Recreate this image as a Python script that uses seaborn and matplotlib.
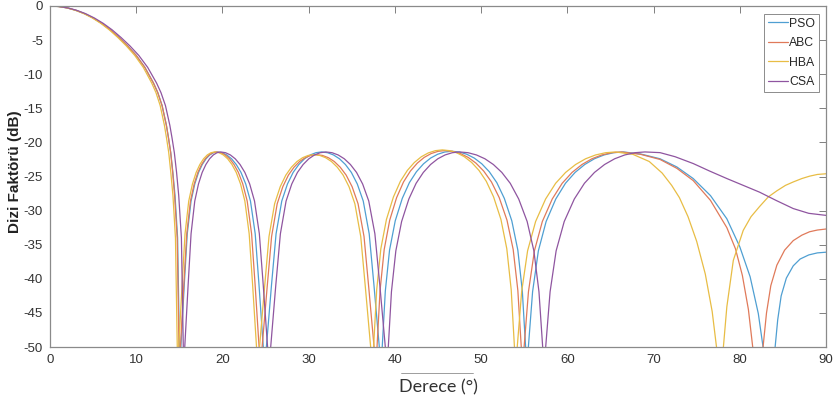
import matplotlib
matplotlib.use("Agg")
import matplotlib.pyplot as plt
import seaborn as sns
import pandas as pd
from matplotlib.lines import Line2D

# ---------------- data ----------------
algorithms = ["PSO", "ABC", "HBA", "CSA"]
colors = ["#4f9fd2", "#e07a5a", "#e8bd45", "#8f55a0"]

pso_deg = [0, 1, 2, 3, 4, 5, 6, 7, 8, 9, 10, 11, 12, 12.5, 13, 13.5, 13.75, 14, 14.25, 14.5, 14.8, 15.05,
           15.57, 15.92, 16.36, 16.79, 17.23, 17.66, 18.10, 18.53, 18.97, 19.4,
           19.95, 20.5, 21.05, 21.6, 22.15, 22.7, 23.25, 23.8, 24.24, 24.9,
           25.69, 26.22, 26.88, 27.54, 28.2, 28.86, 29.52, 30.18, 30.84, 31.5,
           32.19, 32.88, 33.57, 34.26, 34.95, 35.64, 36.33, 37.02, 37.57, 38.4,
           38.89, 39.38, 40.04, 40.86, 41.68, 42.5, 43.32, 44.14, 44.96, 45.78, 46.6,
           47.47, 48.34, 49.21, 50.08, 50.95, 51.82, 52.69, 53.56, 54.26, 54.78, 55.3,
           55.97, 56.64, 57.54, 58.66, 59.78, 60.9, 62.02, 63.14, 64.26, 65.38, 66.5,
           68.5, 70.75, 72.7, 74.6, 76.6, 78.5, 80.0, 81.2, 82.15, 82.7, 83.4,
           84.1, 84.4, 84.8, 85.4, 86.2, 87.0, 88.0, 89.0, 90.0]
pso_db = [0, -0.07, -0.28, -0.63, -1.12, -1.76, -2.55, -3.5, -4.62, -5.85, -7.25, -9.0, -11.3, -12.7, -14.6, -17.5, -19.4, -21.5, -24.4, -27.8, -34.0, -53,
          -40.9, -33.4, -28.6, -26.1, -24.4, -23.24, -22.4, -21.84, -21.51, -21.4,
          -21.51, -21.84, -22.4, -23.24, -24.4, -26.1, -28.6, -33.4, -40.9, -53,
          -40.9, -33.4, -28.6, -26.1, -24.4, -23.24, -22.4, -21.84, -21.51, -21.4,
          -21.51, -21.84, -22.4, -23.24, -24.4, -26.1, -28.6, -33.4, -40.9, -53,
          -41.8, -35.8, -31.5, -28.2, -25.9, -24.3, -23.14, -22.3, -21.74, -21.41, -21.3,
          -21.41, -21.74, -22.3, -23.14, -24.3, -25.9, -28.2, -31.5, -35.8, -41.8, -53,
          -41.9, -35.9, -31.6, -28.3, -26.0, -24.4, -23.24, -22.4, -21.84, -21.51, -21.4,
          -21.7, -22.4, -23.6, -25.3, -27.8, -31.2, -35.3, -39.7, -45.1, -50, -56,
          -50, -46, -42.5, -39.9, -38.1, -37.1, -36.5, -36.2, -36.1]

abc_deg = [0, 1, 2, 3, 4, 5, 6, 7, 8, 9, 10, 11, 12, 12.5, 13, 13.5, 13.75, 14, 14.23, 14.45, 14.75, 15.0,
           15.52, 15.86, 16.29, 16.72, 17.15, 17.58, 18.01, 18.44, 18.87, 19.3,
           19.81, 20.32, 20.83, 21.34, 21.85, 22.36, 22.87, 23.38, 23.79, 24.4,
           25.18, 25.7, 26.35, 27.0, 27.65, 28.3, 28.95, 29.6, 30.25, 30.9,
           31.59, 32.28, 32.97, 33.66, 34.35, 35.04, 35.73, 36.42, 36.97, 37.8,
           38.28, 38.76, 39.4, 40.2, 41.0, 41.8, 42.6, 43.4, 44.2, 45.0, 45.8,
           46.7, 47.6, 48.5, 49.4, 50.3, 51.2, 52.1, 53.0, 53.72, 54.26, 54.8,
           55.49, 56.18, 57.1, 58.25, 59.4, 60.55, 61.7, 62.85, 64.0, 65.15, 66.3,
           68.5, 70.75, 72.7, 74.6, 76.6, 78.5, 79.5, 80.3, 81.0, 81.5, 82.1,
           82.7, 83.1, 83.6, 84.3, 85.2, 86.2, 87.2, 88.1, 89.0, 90.0]
abc_db = [0, -0.07, -0.28, -0.63, -1.12, -1.76, -2.55, -3.5, -4.62, -5.85, -7.25, -9.0, -11.3, -12.7, -14.6, -17.5, -19.4, -21.5, -24.4, -27.8, -34.0, -53,
          -40.9, -33.4, -28.6, -26.1, -24.4, -23.24, -22.4, -21.84, -21.51, -21.4,
          -21.51, -21.84, -22.4, -23.24, -24.4, -26.1, -28.6, -33.4, -40.9, -53,
          -41.3, -33.8, -29.0, -26.5, -24.8, -23.64, -22.8, -22.24, -21.91, -21.8,
          -21.91, -22.24, -22.8, -23.64, -24.8, -26.5, -29.0, -33.8, -41.3, -53,
          -41.7, -35.7, -31.4, -28.1, -25.8, -24.2, -23.04, -22.2, -21.64, -21.31, -21.2,
          -21.31, -21.64, -22.2, -23.04, -24.2, -25.8, -28.1, -31.4, -35.7, -41.7, -53,
          -41.9, -35.9, -31.6, -28.3, -26.0, -24.4, -23.24, -22.4, -21.84, -21.51, -21.4,
          -21.75, -22.5, -23.8, -25.6, -28.5, -32.5, -35.6, -39.5, -44.5, -50, -56,
          -50, -45, -41, -38, -35.8, -34.4, -33.6, -33.1, -32.85, -32.7]

hba_deg = [0, 0.98, 1.97, 2.95, 3.93, 4.92, 5.9, 6.88, 7.87, 8.85, 9.83, 10.82, 11.8, 12.29, 12.78, 13.27, 13.52, 13.77, 14.01, 14.26, 14.55, 14.8,
           15.32, 15.66, 16.09, 16.52, 16.95, 17.38, 17.81, 18.24, 18.67, 19.1,
           19.6, 20.1, 20.6, 21.1, 21.6, 22.1, 22.6, 23.1, 23.5, 24.1,
           24.88, 25.4, 26.05, 26.7, 27.35, 28.0, 28.65, 29.3, 29.95, 30.6,
           31.28, 31.96, 32.64, 33.32, 34.0, 34.68, 35.36, 36.04, 36.58, 37.4,
           37.89, 38.37, 39.02, 39.83, 40.64, 41.45, 42.26, 43.07, 43.88, 44.69, 45.5,
           46.35, 47.2, 48.05, 48.9, 49.75, 50.6, 51.45, 52.3, 52.98, 53.49, 54.0,
           54.7, 55.39, 56.32, 57.48, 58.64, 59.8, 60.96, 62.12, 63.28, 64.44, 65.6,
           67.6, 69.5, 71.0, 72.1, 73.0, 74.0, 75.0, 76.0, 76.8, 77.3, 77.7,
           78.1, 78.5, 79.25, 80.4, 81.3, 82.3, 83.3, 84.3, 85.3, 86.2, 87.2, 88.1, 89.0, 90.0]
hba_db = [0, -0.07, -0.28, -0.63, -1.12, -1.76, -2.55, -3.5, -4.62, -5.85, -7.25, -9.0, -11.3, -12.7, -14.6, -17.5, -19.4, -21.5, -24.4, -27.8, -34.0, -53,
          -40.9, -33.4, -28.6, -26.1, -24.4, -23.24, -22.4, -21.84, -21.51, -21.4,
          -21.51, -21.84, -22.4, -23.24, -24.4, -26.1, -28.6, -33.4, -40.9, -53,
          -41.3, -33.8, -29.0, -26.5, -24.8, -23.64, -22.8, -22.24, -21.91, -21.8,
          -21.91, -22.24, -22.8, -23.64, -24.8, -26.5, -29.0, -33.8, -41.3, -53,
          -41.6, -35.6, -31.3, -28.0, -25.7, -24.1, -22.94, -22.1, -21.54, -21.21, -21.1,
          -21.21, -21.54, -22.1, -22.94, -24.1, -25.7, -28.0, -31.3, -35.6, -41.6, -53,
          -41.9, -35.9, -31.6, -28.3, -26.0, -24.4, -23.24, -22.4, -21.84, -21.51, -21.4,
          -21.75, -22.8, -24.5, -26.3, -28.1, -30.9, -34.5, -39.3, -44.8, -50, -54,
          -50, -44.1, -37.3, -32.9, -30.9, -29.4, -28.0, -27.1, -26.3, -25.8, -25.3, -24.95, -24.7, -24.6]

csa_deg = [0, 1.03, 2.06, 3.09, 4.12, 5.15, 6.18, 7.21, 8.24, 9.27, 10.3, 11.33, 12.36, 12.87, 13.39, 13.9, 14.16, 14.42, 14.68, 14.93, 15.24, 15.5,
           16.02, 16.36, 16.79, 17.22, 17.65, 18.08, 18.51, 18.94, 19.37, 19.8,
           20.36, 20.92, 21.48, 22.04, 22.6, 23.16, 23.72, 24.28, 24.73, 25.4,
           26.19, 26.72, 27.38, 28.04, 28.7, 29.36, 30.02, 30.68, 31.34, 32.0,
           32.71, 33.42, 34.13, 34.84, 35.55, 36.26, 36.97, 37.68, 38.25, 39.1,
           39.6, 40.11, 40.78, 41.62, 42.46, 43.3, 44.14, 44.98, 45.82, 46.66, 47.5,
           48.48, 49.46, 50.44, 51.42, 52.4, 53.38, 54.36, 55.34, 56.12, 56.71, 57.3,
           58.0, 58.7, 59.64, 60.81, 61.98, 63.15, 64.32, 65.49, 66.66, 67.83, 69.0,
           70.75, 72.5, 74.6, 76.5, 78.5, 80.4, 82.3, 84.2, 86.2, 88.0, 90.0]
csa_db = [0, -0.07, -0.28, -0.63, -1.12, -1.76, -2.55, -3.5, -4.62, -5.85, -7.25, -9.0, -11.3, -12.7, -14.6, -17.5, -19.4, -21.5, -24.4, -27.8, -34.0, -53,
          -40.9, -33.4, -28.6, -26.1, -24.4, -23.24, -22.4, -21.84, -21.51, -21.4,
          -21.51, -21.84, -22.4, -23.24, -24.4, -26.1, -28.6, -33.4, -40.9, -53,
          -40.9, -33.4, -28.6, -26.1, -24.4, -23.24, -22.4, -21.84, -21.51, -21.4,
          -21.51, -21.84, -22.4, -23.24, -24.4, -26.1, -28.6, -33.4, -40.9, -53,
          -41.9, -35.9, -31.6, -28.3, -26.0, -24.4, -23.24, -22.4, -21.84, -21.51, -21.4,
          -21.51, -21.84, -22.4, -23.24, -24.4, -26.0, -28.3, -31.6, -35.9, -41.9, -53,
          -41.9, -35.9, -31.6, -28.3, -26.0, -24.4, -23.24, -22.4, -21.84, -21.51, -21.4,
          -21.5, -22.1, -23.1, -24.2, -25.3, -26.3, -27.3, -28.5, -29.7, -30.4, -30.7]

x_ticks = [0, 10, 20, 30, 40, 50, 60, 70, 80, 90]
y_ticks = [0, -5, -10, -15, -20, -25, -30, -35, -40, -45, -50]
x_label = "Derece (°)"
y_label = "Dizi Faktörü (dB)"

# ---------------- build long table ----------------
series = {"PSO": (pso_deg, pso_db), "ABC": (abc_deg, abc_db),
          "HBA": (hba_deg, hba_db), "CSA": (csa_deg, csa_db)}
frames = []
for name, (xs, ys) in series.items():
    assert len(xs) == len(ys), (name, len(xs), len(ys))
    frames.append(pd.DataFrame({"deg": xs, "db": ys, "alg": name}))
df = pd.concat(frames, ignore_index=True)

sns.set_theme(style="white")
plt.rcParams["font.family"] = ["Liberation Sans", "DejaVu Sans"]
plt.rcParams["axes.unicode_minus"] = False

W, H = 836, 405
fig = plt.figure(figsize=(W / 100, H / 100), dpi=100)
fig.patch.set_facecolor("white")
ax = fig.add_axes([50 / W, 1 - 347 / H, 776 / W, 341 / H])

palette = dict(zip(algorithms, colors))
sns.lineplot(data=df, x="deg", y="db", hue="alg", hue_order=algorithms,
             palette=palette, estimator=None, sort=False, linewidth=0.9,
             ax=ax, legend=False)

ax.set_xlim(0, 90)
ax.set_ylim(-50, 0)
ax.set_xticks(x_ticks)
ax.set_yticks(y_ticks)
ax.set_xticklabels([str(v) for v in x_ticks])
ax.set_yticklabels([str(v) for v in y_ticks])
ax.tick_params(direction="in", length=5, width=0.7, top=True, right=True,
               color="#808080", labelcolor="#333333", labelsize=9.5, pad=5)
for s in ax.spines.values():
    s.set_color("#8a8a8a")
    s.set_linewidth(0.9)

ax.set_ylabel(y_label, fontsize=11, fontweight="bold", color="#222222", va="center")
ax.yaxis.set_label_coords(-0.045, 0.515)
ax.set_xlabel(x_label, fontsize=13, family=["Lato", "DejaVu Sans"], color="#333333", va="center")
ax.xaxis.set_label_coords(0.5, -0.117)

handles = [Line2D([0], [0], color=c, lw=0.9) for c in colors]
leg = ax.legend(handles, algorithms, loc="upper right", bbox_to_anchor=(0.991, 0.977),
                borderaxespad=0, fontsize=8.8, handlelength=1.6, handletextpad=0.15,
                borderpad=0.3, labelspacing=0.62, fancybox=False, framealpha=1,
                edgecolor="#8c8c8c")
leg.get_frame().set_linewidth(0.7)

# stray text-box edge under the x axis
fig.add_artist(Line2D([401 / W, 473 / W], [1 - 373 / H, 1 - 373 / H],
                      color="#777777", lw=0.5))

fig.savefig("out.png", dpi=100, facecolor="white")
